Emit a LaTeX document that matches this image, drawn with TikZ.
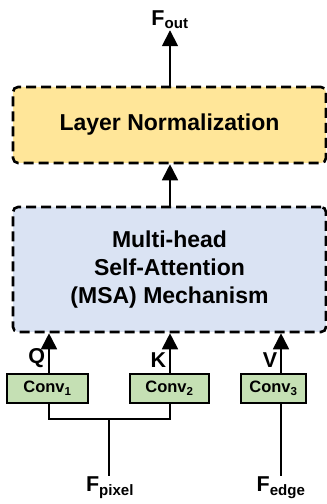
\documentclass[tikz,border=0pt]{standalone}
\usepackage{fontspec}
\setmainfont{Liberation Sans}
\usepackage{tikz}
\usetikzlibrary{arrows.meta,positioning}
\definecolor{lnfill}{RGB}{255,230,153}
\definecolor{msafill}{RGB}{218,227,243}
\definecolor{convfill}{RGB}{197,224,180}
\tikzset{
  bigbox/.style={draw,line width=2.6pt,dash pattern=on 10pt off 5pt,rounded corners=5pt,minimum width=313pt,align=center,font=\fontsize{23}{27.7}\selectfont\bfseries},
  convbox/.style={draw,line width=1.6pt,fill=convfill,minimum height=29pt,inner sep=0pt,font=\fontsize{16.5}{18}\selectfont\bfseries},
  lbl/.style={inner sep=1pt,font=\fontsize{21.5}{24}\selectfont\bfseries},
  flow/.style={line width=1.8pt,-{Triangle[width=16pt,length=16pt]}},
  wire/.style={line width=1.6pt}
}
\begin{document}
\begin{tikzpicture}[x=1pt,y=1pt]
\useasboundingbox (0,0) rectangle (327,504);
% blocks
\node[bigbox,fill=lnfill,minimum height=76pt](ln) at (169.5,379){Layer Normalization};
\node[bigbox,fill=msafill,minimum height=125pt](msa) at (169.5,234.5){Multi-head\\Self-Attention\\(MSA) Mechanism};
\node[convbox,minimum width=81pt](conv1) at (47.5,115.5){Conv\textsubscript{1}};
\node[convbox,minimum width=79pt](conv2) at (169.5,115.5){Conv\textsubscript{2}};
\node[convbox,minimum width=65pt](conv3) at (273.5,115.5){Conv\textsubscript{3}};
% inputs and output
\node[lbl](fout) at (170,484){F\textsubscript{out}};
\node[lbl](fpix) at (110,16){F\textsubscript{pixel}};
\node[lbl](fedge) at (281,16){F\textsubscript{edge}};
\coordinate (qx) at (49,0);
\coordinate (kx) at (170,0);
\coordinate (vx) at (281,0);
\coordinate (join) at (109,85);
% arrows
\draw[flow](ln.north -| kx)--(fout.south);
\draw[flow](msa.north -| kx)--(ln.south -| kx);
\draw[flow](conv1.north -| qx)--(msa.south -| qx)node[pos=0.1,lbl,anchor=south east,xshift=-2pt]{Q};
\draw[flow](conv2.north -| kx)--(msa.south -| kx)node[pos=0.1,lbl,anchor=south east,xshift=-2pt]{K};
\draw[flow](conv3.north -| vx)--(msa.south -| vx)node[pos=0.1,lbl,anchor=south east,xshift=-2pt]{V};
% wires
\draw[wire](conv1.south -| qx)|-(join)-|(conv2.south -| kx);
\draw[wire](join)--(join |- fpix.north);
\draw[wire](conv3.south -| vx)--(fedge.north);
\end{tikzpicture}
\end{document}
